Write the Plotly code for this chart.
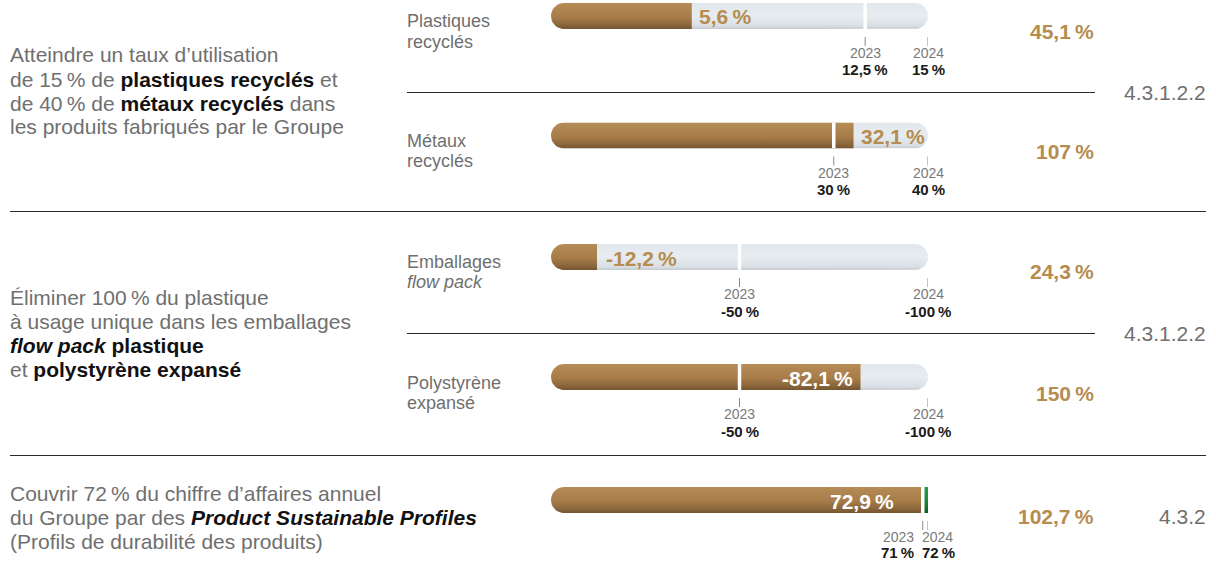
import math
import plotly.graph_objects as go

# ---------------- data ----------------
row_labels = [["Plastiques", "recyclés"], ["Métaux", "recyclés"], ["Emballages", "<i>flow pack</i>"],
              ["Polystyrène", "expansé"], []]
values_2024 = [5.6, 32.1, -12.2, -82.1, 72.9]
target_2023 = [12.5, 30, -50, -50, 71]
target_2024 = [15, 40, -100, -100, 72]
achievement = [45.1, 107, 24.3, 150, 102.7]
B = "<span style='color:#111111'><b>{}</b></span>"
objectives = [
    ["Atteindre un taux d’utilisation",
     "de 15\u202f% de " + B.format("plastiques recyclés") + " et",
     "de 40\u202f% de " + B.format("métaux recyclés") + " dans",
     "les produits fabriqués par le Groupe"],
    ["Éliminer 100\u202f% du plastique",
     "à usage unique dans les emballages",
     B.format("<i>flow pack</i> plastique"),
     "et " + B.format("polystyrène expansé")],
    ["Couvrir 72\u202f% du chiffre d’affaires annuel",
     "du Groupe par des " + B.format("<i>Product Sustainable Profiles</i>"),
     "(Profils de durabilité des produits)"],
]
references = ["4.3.1.2.2", "4.3.1.2.2", "4.3.2"]

# ---------------- style / layout ----------------
W, H = 1216, 561
FONT = "Liberation Sans, Arial, sans-serif"
BROWN_SCALE = [[0, "#74552F"], [0.18, "#8C683C"], [0.45, "#A77C48"], [1, "#B58B56"]]
TRACK_SCALE = [[0, "#C3C9CE"], [0.12, "#D9DFE4"], [0.5, "#E6ECF0"], [1, "#E1E7EC"]]
GREEN_SCALE = [[0, "#0C5A20"], [0.4, "#1C8238"], [1, "#2A9D4A"]]
GOLD = "#B68C4F"
GRAY = "#6F6F6F"
bar_cy = [16, 135.5, 257, 377, 500]
bar_h = 26
bar_x0, bar_x1 = 551, 928
label_mode = ["out", "out", "out", "in", "in"]
label_shift = [5, 5, 7, -6, -27]
row_label_y = [(21, 42), (141, 161), (262, 282), (383, 403)]
ach_y = [32, 151, 271, 393, 516]
obj_y = [[55, 79, 103, 127], [297, 321, 345, 369], [493, 517, 541]]
ref_y = [92, 333, 516]
year_shift = [(0, 0)] * 4 + [(-7, -8)]
year_anchor = [("center", "center")] * 4 + [("right", "left")]


def fmt(v, dec=1):
    s = f"{v:.{dec}f}".replace(".", ",")
    return s + "\u202f%"


def fmt_t(v):
    s = (f"{v:.1f}" if v != int(v) else f"{int(v)}").replace(".", ",")
    return s + "\u202f%"


def px(x):
    return x / W


def py(y):
    return 1 - y / H


def text(x, y, s, size, color, anchor="left", bold=False):
    return dict(x=px(x), xref="paper", y=py(y), yref="paper", text=f"<b>{s}</b>" if bold else s,
                showarrow=False, xanchor=anchor, yanchor="middle", align=anchor,
                font=dict(size=size, color=color, family=FONT))


fig = go.Figure()
layout = dict(width=W, height=H, margin=dict(l=0, r=0, t=0, b=0),
              paper_bgcolor="white", plot_bgcolor="rgba(0,0,0,0)",
              showlegend=False, font=dict(family=FONT))
shapes, annots = [], []


def capsule(lo, hi, r, round_lo, round_hi, scale, xa, ya):
    """Bar segment lo..hi (axis units), optionally rounded at either end (radius r in axis units)."""
    xs, ys = [], []
    if round_lo:
        for k in range(19):
            t = math.pi / 2 + math.pi * k / 18
            xs.append(lo + r + r * math.cos(t)); ys.append(0.5 * math.sin(t))
    else:
        xs += [lo, lo]; ys += [0.5, -0.5]
    if round_hi:
        for k in range(19):
            t = -math.pi / 2 + math.pi * k / 18
            xs.append(hi - r + r * math.cos(t)); ys.append(0.5 * math.sin(t))
    else:
        xs += [hi, hi]; ys += [-0.5, 0.5]
    xs.append(xs[0]); ys.append(ys[0])
    fig.add_trace(go.Scatter(x=xs, y=ys, mode="lines", line=dict(width=0), fill="toself",
                             fillgradient=dict(type="vertical", colorscale=scale, start=-0.5, stop=0.5),
                             xaxis=xa, yaxis=ya, hoverinfo="skip"))


for i in range(5):
    n = "" if i == 0 else str(i + 1)
    xa, ya = "x" + n, "y" + n
    t24, t23, v = target_2024[i], target_2023[i], values_2024[i]
    top, bot = bar_cy[i] - bar_h / 2, bar_cy[i] + bar_h / 2
    layout["xaxis" + n] = dict(domain=[px(bar_x0), px(bar_x1)], range=[0, t24], anchor=ya,
                               visible=False, fixedrange=True)
    layout["yaxis" + n] = dict(domain=[py(bot), py(top)], range=[-0.5, 0.5], anchor=xa,
                               visible=False, fixedrange=True)
    r_data = t24 * (bar_h / 2) / (bar_x1 - bar_x0)   # corner radius in axis units
    # track
    capsule(0, t24, r_data, True, True, TRACK_SCALE, xa, ya)
    # fill
    if abs(v) >= abs(t24):
        fill_end = t23
        capsule(0, t23, r_data, True, False, BROWN_SCALE, xa, ya)
        capsule(t23, t24, r_data, False, False, GREEN_SCALE, xa, ya)
    else:
        fill_end = v
        capsule(0, v, r_data, True, False, BROWN_SCALE, xa, ya)
    # 2023 separator
    shapes.append(dict(type="line", xref=xa, yref=ya, x0=t23, x1=t23, y0=-0.5, y1=0.5,
                       line=dict(color="white", width=3.5)))
    # value label
    col = GOLD if label_mode[i] == "out" else "white"
    anc = "left" if label_mode[i] == "out" else "right"
    annots.append(dict(x=fill_end, xref=xa, y=py(bar_cy[i] + 1), yref="paper", text=f"<b>{fmt(v)}</b>",
                       showarrow=False, xanchor=anc, yanchor="middle", xshift=label_shift[i],
                       font=dict(size=21, color=col, family=FONT)))
    # ticks and year labels
    for j, (yr, tv) in enumerate([("2023", t23), ("2024", t24)]):
        shapes.append(dict(type="line", xref=xa, yref="paper", x0=tv, x1=tv,
                           y0=py(bot + 8), y1=py(bot + 17),
                           line=dict(color="#8A8A8A", width=1)))
        sh = year_shift[i][j]
        annots.append(dict(x=tv, xref=xa, y=py(bot + 24), yref="paper", text=yr, showarrow=False,
                           xanchor=year_anchor[i][j], yanchor="middle", xshift=sh,
                           font=dict(size=14, color="#7A7A7A", family=FONT)))
        annots.append(dict(x=tv, xref=xa, y=py(min(bot + 41, 552)), yref="paper",
                           text=f"<b>{fmt_t(tv)}</b>", showarrow=False,
                           xanchor=year_anchor[i][j], yanchor="middle", xshift=sh,
                           font=dict(size=15, color="#1A1A1A", family=FONT)))
    # achievement
    dec = 1 if achievement[i] != int(achievement[i]) else 0
    annots.append(text(1096, ach_y[i], fmt(achievement[i], dec), 21, GOLD, "right", bold=True))
    for line, yy in zip(row_labels[i], row_label_y[i] if i < 4 else []):
        annots.append(text(405, yy, line, 18, GRAY))

for k in range(3):
    for line, yy in zip(objectives[k], obj_y[k]):
        annots.append(text(8, yy, line, 21, GRAY))
    annots.append(text(1208, ref_y[k], references[k], 21, GRAY, "right"))

# separator lines
for (x0, x1, y) in [(407, 1095, 92), (10, 1206, 211), (407, 1095, 333), (10, 1206, 455)]:
    shapes.append(dict(type="line", xref="paper", yref="paper", x0=px(x0), x1=px(x1),
                       y0=py(y + 0.5), y1=py(y + 0.5), line=dict(color="#2A2A2A", width=1)))

layout["shapes"] = shapes
layout["annotations"] = annots
fig.update_layout(**layout)
fig.write_html("out.html", config={"displayModeBar": False},
               post_script="document.body.style.margin='0';document.body.style.overflow='hidden';")
